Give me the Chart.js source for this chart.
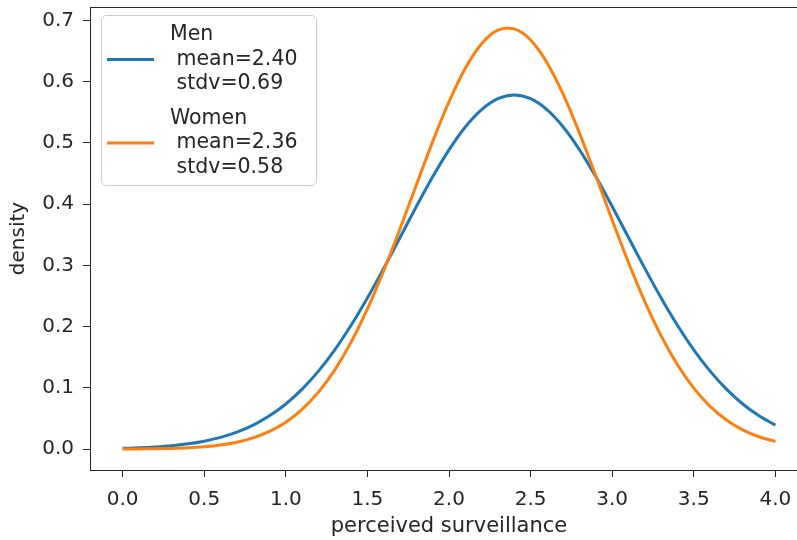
<!DOCTYPE html>
<html>
<head>
<meta charset="utf-8">
<script src="https://cdn.jsdelivr.net/npm/chart.js@4/dist/chart.umd.min.js"></script>
<style>
  html, body { margin: 0; padding: 0; background: #fff; overflow: hidden; }
  #wrap { width: 830px; height: 540px; }
</style>
</head>
<body>
<div id="wrap"><canvas id="chart" width="830" height="540"></canvas></div>
<script>
//  Data ──
const xValues = [
  0.0, 0.1, 0.2, 0.3, 0.4, 0.5, 0.6, 0.7, 0.8, 0.9,
  1.0, 1.1, 1.2, 1.3, 1.4, 1.5, 1.6, 1.7, 1.8, 1.9,
  2.0, 2.1, 2.2, 2.3, 2.4, 2.5, 2.6, 2.7, 2.8, 2.9,
  3.0, 3.1, 3.2, 3.3, 3.4, 3.5, 3.6, 3.7, 3.8, 3.9, 4.0
];
const menDensity = [
  0.0014, 0.0022, 0.0036, 0.0056, 0.0087, 0.0131, 0.0192, 0.0278, 0.0393, 0.0544,
  0.0738, 0.0980, 0.1274, 0.1622, 0.2023, 0.2470, 0.2952, 0.3456, 0.3962, 0.4447,
  0.4888, 0.5261, 0.5544, 0.5722, 0.5782, 0.5722, 0.5544, 0.5261, 0.4888, 0.4447,
  0.3962, 0.3456, 0.2952, 0.2470, 0.2023, 0.1622, 0.1274, 0.0980, 0.0738, 0.0544, 0.0393
];
const womenDensity = [
  0.0002, 0.0004, 0.0007, 0.0013, 0.0023, 0.0040, 0.0069, 0.0114, 0.0185, 0.0290,
  0.0440, 0.0650, 0.0931, 0.1295, 0.1748, 0.2291, 0.2915, 0.3600, 0.4315, 0.5022,
  0.5673, 0.6220, 0.6621, 0.6841, 0.6862, 0.6681, 0.6314, 0.5792, 0.5159, 0.4459,
  0.3742, 0.3048, 0.2410, 0.1850, 0.1378, 0.0997, 0.0700, 0.0477, 0.0316, 0.0203, 0.0126
];
const seriesNames  = ['Men', 'Women'];
const seriesMeans  = ['2.40', '2.36'];
const seriesStdvs  = ['0.69', '0.58'];
const xTickValues  = [0, 0.5, 1, 1.5, 2, 2.5, 3, 3.5, 4];
const yTickValues  = [0, 0.1, 0.2, 0.3, 0.4, 0.5, 0.6, 0.7];

//  Style ─
const BLUE   = '#1f77b4';
const ORANGE = '#ff7f0e';
const INK    = '#262626';
const FONT   = 'DejaVu Sans, sans-serif';
const colors = [BLUE, ORANGE];

//  Top spine + legend (matplotlib style) ─
const framePlugin = {
  id: 'frame',
  afterDraw(chart) {
    const { ctx, chartArea: a } = chart;
    ctx.save();
    ctx.strokeStyle = INK;
    ctx.lineWidth = 1;
    ctx.beginPath();
    ctx.moveTo(a.left, a.top + 0.5);
    ctx.lineTo(a.right, a.top + 0.5);
    ctx.stroke();

    // legend box
    const bx = 101.5, by = 15.5, bw = 215, bh = 170, r = 5;
    ctx.beginPath();
    ctx.roundRect(bx, by, bw, bh, r);
    ctx.fillStyle = 'rgba(255,255,255,0.8)';
    ctx.fill();
    ctx.strokeStyle = '#cccccc';
    ctx.stroke();

    ctx.font = '20.5px ' + FONT;
    ctx.textBaseline = 'middle';
    ctx.textAlign = 'left';
    seriesNames.forEach((name, i) => {
      const top = 35 + i * 83.5;
      const lines = [name, ' mean=' + seriesMeans[i], ' stdv=' + seriesStdvs[i]];
      ctx.strokeStyle = colors[i];
      ctx.lineWidth = 3;
      ctx.beginPath();
      ctx.moveTo(107, top + 24.5);
      ctx.lineTo(154, top + 24.5);
      ctx.stroke();
      ctx.fillStyle = INK;
      lines.forEach((t, j) => ctx.fillText(t, 170, top + j * 24.5));
    });
    ctx.restore();
  }
};

//  Chart 
const toPoints = ys => xValues.map((x, i) => ({ x, y: ys[i] }));

new Chart(document.getElementById('chart'), {
  type: 'line',
  data: {
    datasets: [
      { label: seriesNames[0], data: toPoints(menDensity), borderColor: BLUE, order: 1 },
      { label: seriesNames[1], data: toPoints(womenDensity), borderColor: ORANGE, order: 0 }
    ].map(d => Object.assign(d, {
      borderWidth: 3,
      pointRadius: 0,
      fill: false,
      tension: 0.3
    }))
  },
  options: {
    responsive: false,
    animation: false,
    layout: { padding: { top: 7, right: 22, bottom: 0, left: 0 } },
    plugins: { legend: { display: false }, tooltip: { enabled: false } },
    scales: {
      x: {
        type: 'linear',
        min: -0.2,
        max: 4.2,
        afterFit: s => { s.height = 70; s.paddingLeft = 0; s.paddingRight = 0; },
        afterBuildTicks: s => { s.ticks = xTickValues.map(v => ({ value: v })); },
        grid: { drawOnChartArea: false, tickLength: 7, tickColor: INK },
        border: { color: INK, width: 1 },
        ticks: {
          color: INK, padding: 11, maxRotation: 0,
          font: { family: FONT, size: 20 },
          callback: v => v.toFixed(1)
        },
        title: {
          display: true, text: 'perceived surveillance', color: INK,
          font: { family: FONT, size: 21 }, padding: { top: 0, bottom: 1 }
        }
      },
      y: {
        min: -0.034,
        max: 0.722,
        afterFit: s => { s.width = 90; s.paddingTop = 0; s.paddingBottom = 0; },
        afterBuildTicks: s => { s.ticks = yTickValues.map(v => ({ value: v })); },
        grid: { drawOnChartArea: false, tickLength: 7, tickColor: INK },
        border: { color: INK, width: 1 },
        ticks: {
          color: INK, padding: 9,
          font: { family: FONT, size: 20 },
          callback: v => v.toFixed(1)
        },
        title: {
          display: true, text: 'density', color: INK,
          font: { family: FONT, size: 20 }, padding: { top: 7, bottom: 0 }
        }
      }
    }
  },
  plugins: [framePlugin]
});
</script>
</body>
</html>
